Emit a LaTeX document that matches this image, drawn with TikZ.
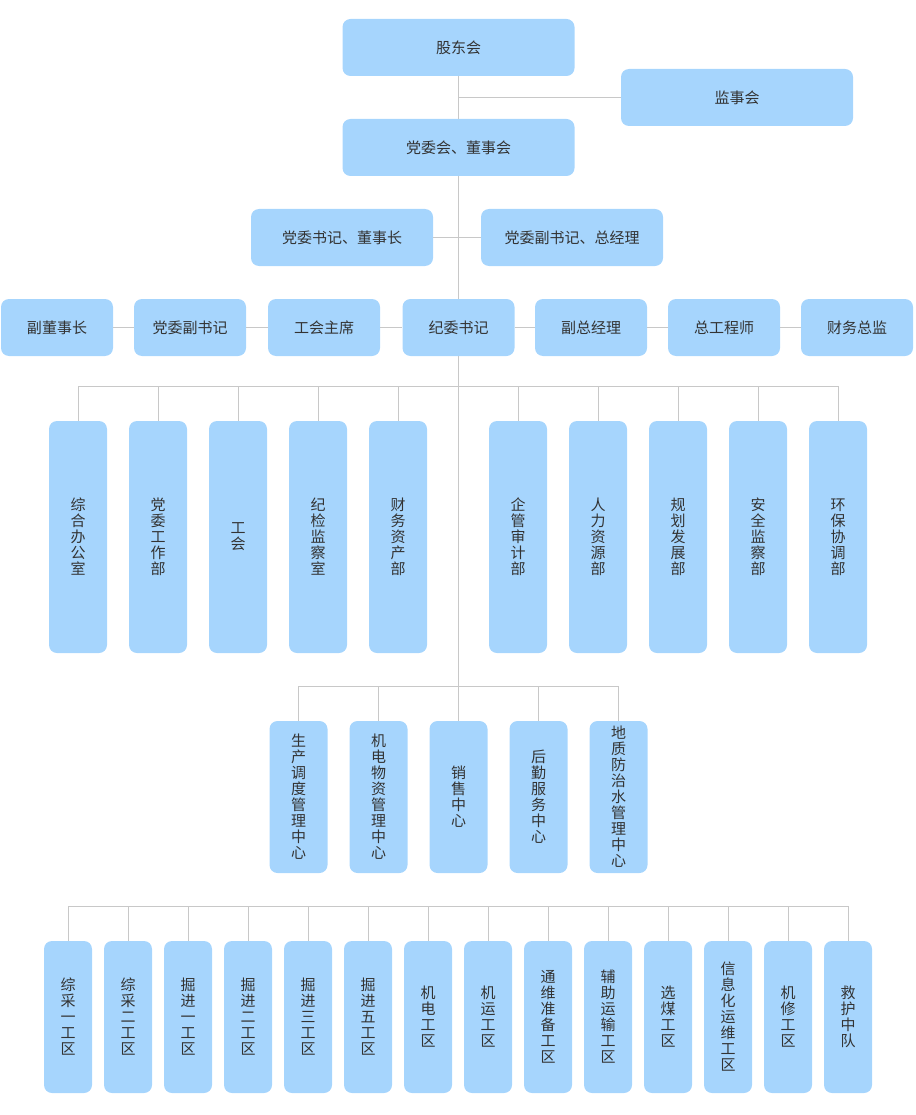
\documentclass[tikz,border=0pt]{standalone}
\usepackage{fontspec}
\newfontfamily\cjk{Noto Sans CJK SC}
\usetikzlibrary{positioning}

\definecolor{boxblue}{RGB}{166,213,253}
\definecolor{linegray}{RGB}{200,200,200}
\definecolor{textgray}{RGB}{51,51,51}

\begin{document}
\begin{tikzpicture}[
    x=1pt, y=-1pt,
    box/.style={fill=boxblue, rounded corners=8pt, inner sep=0pt, text=textgray,
        font=\cjk\fontsize{15}{16}\selectfont, align=center},
    widebox/.style={box, minimum width=232pt, minimum height=57pt},
    midbox/.style={box, minimum width=182pt, minimum height=57pt},
    leadbox/.style={box, minimum width=112pt, minimum height=57pt},
    deptbox/.style={box, minimum width=58pt, minimum height=232pt},
    centerbox/.style={box, minimum width=58pt, minimum height=152pt},
    teambox/.style={box, minimum width=48pt, minimum height=152pt},
    link/.style={draw=linegray, line width=1pt}
]

\useasboundingbox (0,0) rectangle (915,1115);

% --- Top levels ---
\node[widebox] (gudong) at (458.5,47.5) {股东会};
\node[widebox] (jianshi) at (737,97.5) {监事会};
\node[widebox] (dongshihui) at (458.5,147.5) {党委会、董事会};
\node[midbox] (shuji) at (342,237.5) {党委书记、董事长};
\node[midbox] (zongjingli) at (572,237.5) {党委副书记、总经理};

% --- Leaders row ---
\foreach \i/\x/\t in {1/57/副董事长, 2/190/党委副书记, 3/324/工会主席, 4/458.5/纪委书记,
                       5/591/副总经理, 6/724/总工程师, 7/857/财务总监}
    \node[leadbox] (lead\i) at (\x,327.5) {\t};

% --- Departments (vertical text) ---
\foreach \i/\x/\t in {1/78/{综\\合\\办\\公\\室}, 2/158/{党\\委\\工\\作\\部}, 3/238/{工\\会},
                       4/318/{纪\\检\\监\\察\\室}, 5/398/{财\\务\\资\\产\\部},
                       6/518/{企\\管\\审\\计\\部}, 7/598/{人\\力\\资\\源\\部},
                       8/678/{规\\划\\发\\展\\部}, 9/758/{安\\全\\监\\察\\部},
                       10/838/{环\\保\\协\\调\\部}}
    \node[deptbox] (dept\i) at (\x,537) {\t};

% --- Centers ---
\foreach \i/\x/\t in {1/298.5/{生\\产\\调\\度\\管\\理\\中\\心}, 2/378.5/{机\\电\\物\\资\\管\\理\\中\\心},
                       3/458.5/{销\\售\\中\\心}, 4/538.5/{后\\勤\\服\\务\\中\\心},
                       5/618.5/{地\\质\\防\\治\\水\\管\\理\\中\\心}}
    \node[centerbox] (center\i) at (\x,797) {\t};

% --- Work areas ---
\foreach \i/\t in {1/{综\\采\\一\\工\\区}, 2/{综\\采\\二\\工\\区}, 3/{掘\\进\\一\\工\\区},
                   4/{掘\\进\\二\\工\\区}, 5/{掘\\进\\三\\工\\区}, 6/{掘\\进\\五\\工\\区},
                   7/{机\\电\\工\\区}, 8/{机\\运\\工\\区}, 9/{通\\维\\准\\备\\工\\区},
                   10/{辅\\助\\运\\输\\工\\区}, 11/{选\\煤\\工\\区},
                   12/{信\\息\\化\\运\\维\\工\\区}, 13/{机\\修\\工\\区}, 14/{救\\护\\中\\队}}
    \node[teambox] (team\i) at ({8+60*\i},1017) {\t};

% --- Connectors ---
\draw[link] (gudong) -- (dongshihui);
\draw[link] (gudong.south |- jianshi.west) -- (jianshi.west);
\draw[link] (dongshihui) -- (lead4);
\draw[link] (shuji) -- (zongjingli);
\foreach \i/\j in {1/2, 2/3, 3/4, 4/5, 5/6, 6/7}
    \draw[link] (lead\i) -- (lead\j);

% bus to departments
\coordinate (busA) at (0,386);
\draw[link] (dept1.north |- busA) -- (dept10.north |- busA);
\foreach \i in {1,...,10}
    \draw[link] (dept\i.north |- busA) -- (dept\i);

% trunk down to the centers
\draw[link] (lead4) -- (center3);
\coordinate (busB) at (0,686);
\draw[link] (center1.north |- busB) -- (center5.north |- busB);
\foreach \i in {1,2,4,5}
    \draw[link] (center\i.north |- busB) -- (center\i);

% bus to work areas
\coordinate (busC) at (0,906);
\draw[link] (team1.north |- busC) -- (team14.north |- busC);
\foreach \i in {1,...,14}
    \draw[link] (team\i.north |- busC) -- (team\i);

\end{tikzpicture}
\end{document}
